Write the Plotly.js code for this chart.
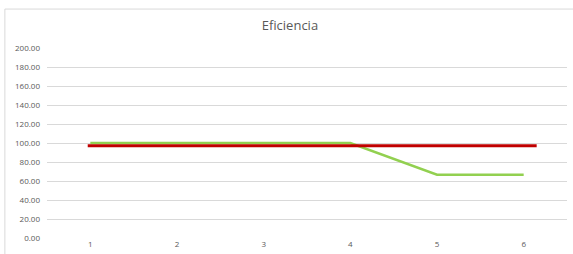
<!DOCTYPE html>
<html>
<head>
<meta charset="utf-8">
<script src="https://cdn.plot.ly/plotly-3.0.1.min.js"></script>
<style>html,body{margin:0;padding:0;background:#fff;}#chart{width:573px;height:254px;}</style>
</head>
<body>
<div id="chart"></div>
<script>
const categories = [1, 2, 3, 4, 5, 6];
const eficiencia = [100, 100, 100, 100, 66.67, 66.67];
const metaX = [0.97, 6.15];
const metaY = [97, 97];
const yTicks = [0, 20, 40, 60, 80, 100, 120, 140, 160, 180, 200];
const yTickLabels = yTicks.map(v => v.toFixed(2));
const chartTitle = "Eficiencia";

const traces = [
  {x: categories, y: eficiencia, type: 'scatter', mode: 'lines',
   line: {color: '#92d050', width: 2.5}, hoverinfo: 'skip'},
  {x: metaX, y: metaY, type: 'scatter', mode: 'lines',
   line: {color: '#c00000', width: 3}, hoverinfo: 'skip'}
];

const layout = {
  width: 573, height: 254,
  margin: {l: 47, r: 6, t: 48, b: 16},
  paper_bgcolor: '#ffffff', plot_bgcolor: '#ffffff',
  showlegend: false,
  title: {text: chartTitle, x: 0.506, xref: 'container', xanchor: 'center', y: 0.9, yref: 'container', yanchor: 'middle',
          font: {family: 'Open Sans, sans-serif', size: 13, color: '#595959'}},
  xaxis: {range: [0.5, 6.5], tickvals: categories, ticktext: categories.map(String),
          showgrid: false, zeroline: false, showline: false, ticks: '',
          tickfont: {family: 'Open Sans, sans-serif', size: 8, color: '#595959'}, fixedrange: true},
  yaxis: {range: [0, 200], tickvals: yTicks, ticktext: yTickLabels,
          showgrid: true, gridcolor: '#d9d9d9', gridwidth: 1, zeroline: false, showline: false, ticks: '',
          ticklabelstandoff: 6,
          tickfont: {family: 'Open Sans, sans-serif', size: 8, color: '#595959'}, fixedrange: true},
  shapes: [
    {type: 'line', xref: 'paper', yref: 'paper', x0: -0.081, x1: 1.02, y0: 1.205, y1: 1.205,
     line: {color: '#d9d9d9', width: 1}},
    {type: 'line', xref: 'paper', yref: 'paper', x0: -0.081, x1: -0.081, y0: 1.205, y1: -0.2,
     line: {color: '#d9d9d9', width: 1}}
  ]
};

Plotly.newPlot('chart', traces, layout, {staticPlot: true, displayModeBar: false});
</script>
</body>
</html>
